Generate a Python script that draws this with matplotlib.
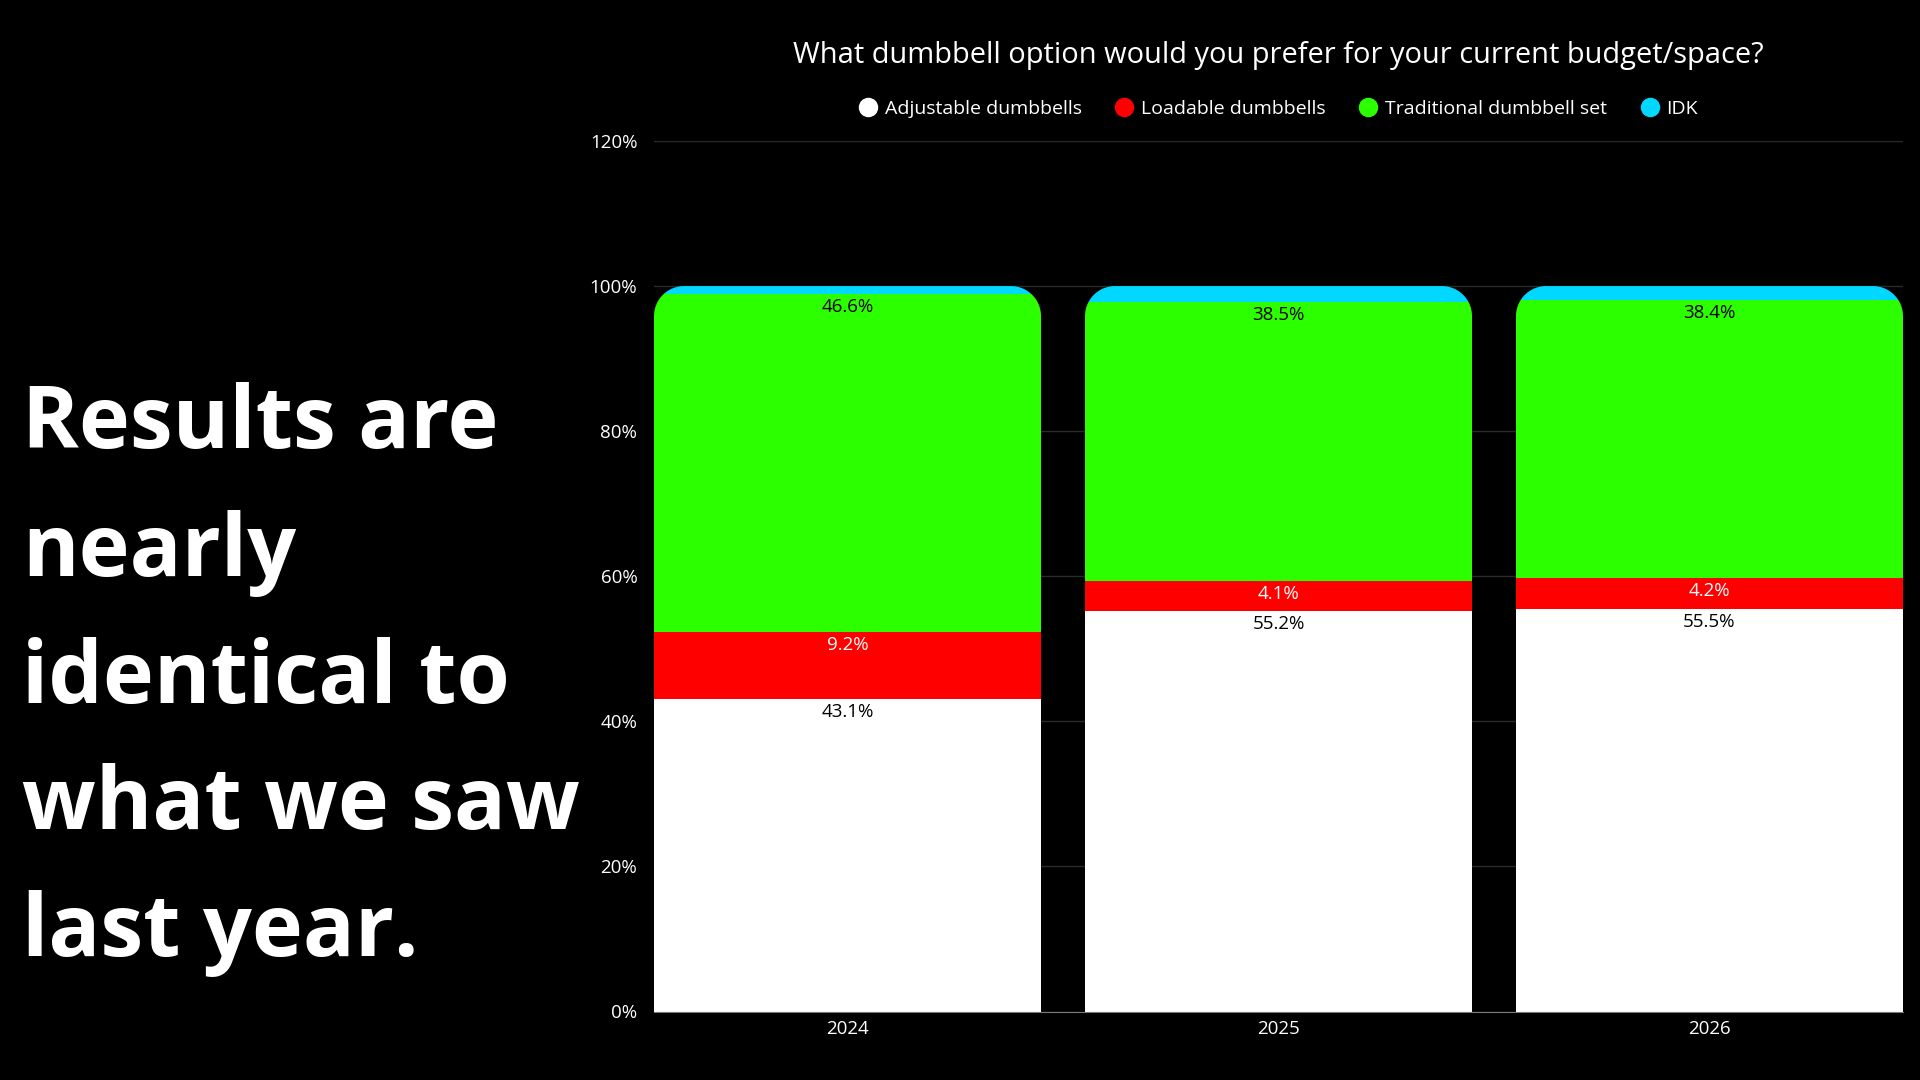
import matplotlib
matplotlib.use("Agg")
import matplotlib.pyplot as plt
import numpy as np
from matplotlib.path import Path
from matplotlib.patches import PathPatch
from matplotlib.lines import Line2D

years = ["2024", "2025", "2026"]
series_names = ["Adjustable dumbbells", "Loadable dumbbells", "Traditional dumbbell set", "IDK"]
adjustable = [43.1, 55.2, 55.5]
loadable = [9.2, 4.1, 4.2]
traditional = [46.6, 38.5, 38.4]
idk = [1.1, 2.2, 1.9]
yticks = [0, 20, 40, 60, 80, 100, 120]
headline = ["Results are", "nearly", "identical to", "what we saw", "last year."]
title = "What dumbbell option would you prefer for your current budget/space?"

colors = ["#ffffff", "#ff0000", "#2bff00", "#00d8ff"]
label_colors = ["black", "white", "black", None]
FONT = "Open Sans"

W, H = 1920, 1080
fig = plt.figure(figsize=(W / 100, H / 100), dpi=100, facecolor="black")
ax_l, ax_r, ax_t, ax_b = 654, 1903, 141, 1011.5
ax = fig.add_axes([ax_l / W, 1 - ax_b / H, (ax_r - ax_l) / W, (ax_b - ax_t) / H])
ax.set_facecolor("black")

bw = 0.898
x = np.arange(len(years))
ax.set_xlim(-bw / 2, len(years) - 1 + bw / 2)
ax.set_ylim(0, 120)

# pixel scale for rounded corners
px_x = (ax_r - ax_l) / (ax.get_xlim()[1] - ax.get_xlim()[0])
px_y = (ax_b - ax_t) / 120.0
rad = 30
rx, ry = rad / px_x, rad / px_y

data = [adjustable, loadable, traditional, idk]
bottom = np.zeros(len(years))
containers = []
for s, vals in enumerate(data):
    vals = np.array(vals)
    bars = ax.bar(x, vals, bw, bottom=bottom, color=colors[s], zorder=3, linewidth=0)
    containers.append(bars)
    if label_colors[s] is not None:
        for xi, b, v in zip(x, bottom, vals):
            ax.annotate(f"{v:.1f}%", (xi, b + v), xytext=(0, -13), textcoords="offset pixels",
                        ha="center", va="center", color=label_colors[s], fontsize=13.5,
                        family=FONT, zorder=5)
    bottom = bottom + vals

# rounded-top clip per category
for i, xi in enumerate(x):
    top = bottom[i]
    x0, x1 = xi - bw / 2, xi + bw / 2
    t = np.linspace(0, np.pi / 2, 20)
    left_arc = np.column_stack([x0 + rx - rx * np.cos(t), top - ry + ry * np.sin(t)])
    right_arc = np.column_stack([x1 - rx + rx * np.sin(t), top - ry + ry * np.cos(t)])
    pts = np.vstack([[x0, -1], left_arc, right_arc, [x1, -1], [x0, -1]])
    clip = PathPatch(Path(pts), transform=ax.transData, facecolor="none", edgecolor="none")
    ax.add_patch(clip)
    for bars in containers:
        bars[i].set_clip_path(clip)

ax.set_yticks(yticks)
ax.set_yticklabels([f"{v}%" for v in yticks])
ax.set_xticks(x)
ax.set_xticklabels(years)
ax.tick_params(axis="both", length=0, colors="white", labelsize=13.5)
ax.tick_params(axis="y", pad=12)
ax.tick_params(axis="x", pad=6)
for lab in ax.get_yticklabels() + ax.get_xticklabels():
    lab.set_family(FONT)
ax.grid(axis="y", color="#2a2a2a", linewidth=1, zorder=0)
for sp in ["top", "right", "left"]:
    ax.spines[sp].set_visible(False)
ax.spines["bottom"].set_color("#7a7a7a")
ax.spines["bottom"].set_zorder(4)

fig.text(1278 / W, 1 - 63.5 / H, title, ha="center", va="baseline", color="white",
         fontsize=20.9, family=FONT)

handles = [Line2D([], [], linestyle="none", marker="o", markersize=13,
                  markerfacecolor=c, markeredgecolor=c) for c in colors]
leg = fig.legend(handles, series_names, loc="center", bbox_to_anchor=(1278 / W, 1 - 108.5 / H),
                 ncol=4, frameon=False, handletextpad=0.35, columnspacing=1.7,
                 handlelength=1.0, prop={"family": FONT, "size": 14})
for t_ in leg.get_texts():
    t_.set_color("white")

baselines = [448, 576, 703, 829, 956]
for line, yb in zip(headline, baselines):
    fig.text(22 / W, 1 - yb / H, line, ha="left", va="baseline", color="white",
             fontsize=62, fontweight="bold", family="Open Sans")

fig.savefig("out.png", dpi=100, facecolor="black")
